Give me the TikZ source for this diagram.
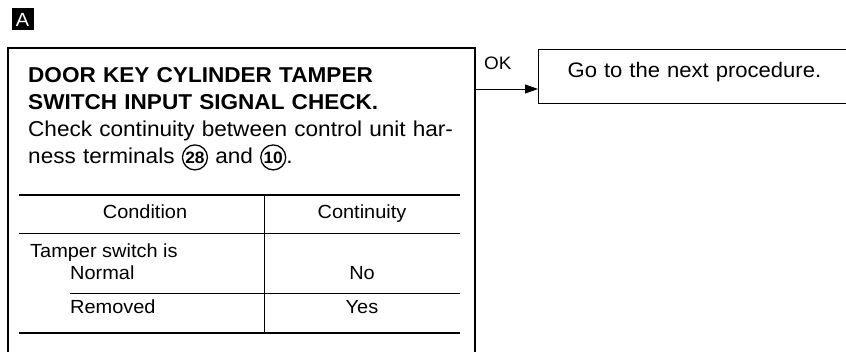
\documentclass[tikz,border=0pt]{standalone}
\usepackage{fontspec}
\setmainfont{Liberation Sans}[FakeStretch=1.05]
\usetikzlibrary{arrows.meta}
\tikzset{
  frame/.style={line width=1.4pt},
  rule/.style={line width=0.8pt},
  thickrule/.style={line width=2.6pt},
  cell/.style={anchor=base, inner sep=0pt, font=\fontsize{19}{22}\selectfont},
  lcell/.style={cell, anchor=base west},
}
\newcommand{\termnum}[1]{\tikz[baseline=(t.base)]\node[circle, draw, line width=1.3pt,
  inner sep=0pt, minimum size=25pt, font=\fontsize{16.5}{17}\selectfont\bfseries] (t) {#1};}

\begin{document}
\begin{tikzpicture}[x=1pt,y=-1pt]
  \useasboundingbox (0,0) rectangle (846,352);
  % tag
  \node[fill=black, text=white, minimum width=22pt, minimum height=22pt, inner sep=0pt,
    font=\fontsize{19}{19}\selectfont] (tag) at (22.5,19.5) {A};
  % check box, runs on below the page
  \coordinate (boxtl) at (8,48);
  \coordinate (boxtr) at (475,48);
  \draw[frame] (boxtl |- 0,352) -- (boxtl) -- (boxtr) -- (boxtr |- 0,352);
  \node[anchor=base west, inner sep=0pt, text width=445pt, align=left,
    font=\fontsize{21.5}{26.7}\selectfont] (check) at (28,83)
    {\textbf{DOOR KEY CYLINDER TAMPER}\\
     \textbf{SWITCH INPUT SIGNAL CHECK.}\\
     Check continuity between control unit har-\\
     ness terminals \termnum{28} and \termnum{10}.};
  % table
  \draw[thickrule] (19,195) -- (460,195);
  \draw[rule] (19,233) -- (460,233);
  \draw[rule] (70,293) -- (460,293);
  \draw[thickrule] (19,333) -- (460,333);
  \draw[rule] (264,195) -- (264,333);
  \node[cell] (hcond) at (145,218.5) {Condition};
  \node[cell] (hcont) at (362,218.5) {Continuity};
  \node[lcell] (tamper) at (30,257.5) {Tamper switch is};
  \node[lcell] (normal) at (70,280) {Normal};
  \node[cell] (no) at (362,280) {No};
  \node[lcell] (removed) at (70,314) {Removed};
  \node[cell] (yes) at (362,314) {Yes};
  % OK branch
  \node[draw, frame, anchor=north west, minimum height=54pt, text width=282pt,
    inner xsep=29pt, text height=15pt, text depth=13pt, align=left,
    font=\fontsize{21}{24}\selectfont] (next) at (538,49) {Go to the next procedure.};
  \node[anchor=base west, inner sep=0pt, font=\fontsize{18}{20}\selectfont] (ok) at (484,70) {OK};
  \coordinate (okfrom) at (boxtr |- 0,89);
  \draw[line width=0.9pt, -{Triangle[length=13pt,width=9pt]}] (okfrom) -- (okfrom -| next.west);
\end{tikzpicture}
\end{document}
